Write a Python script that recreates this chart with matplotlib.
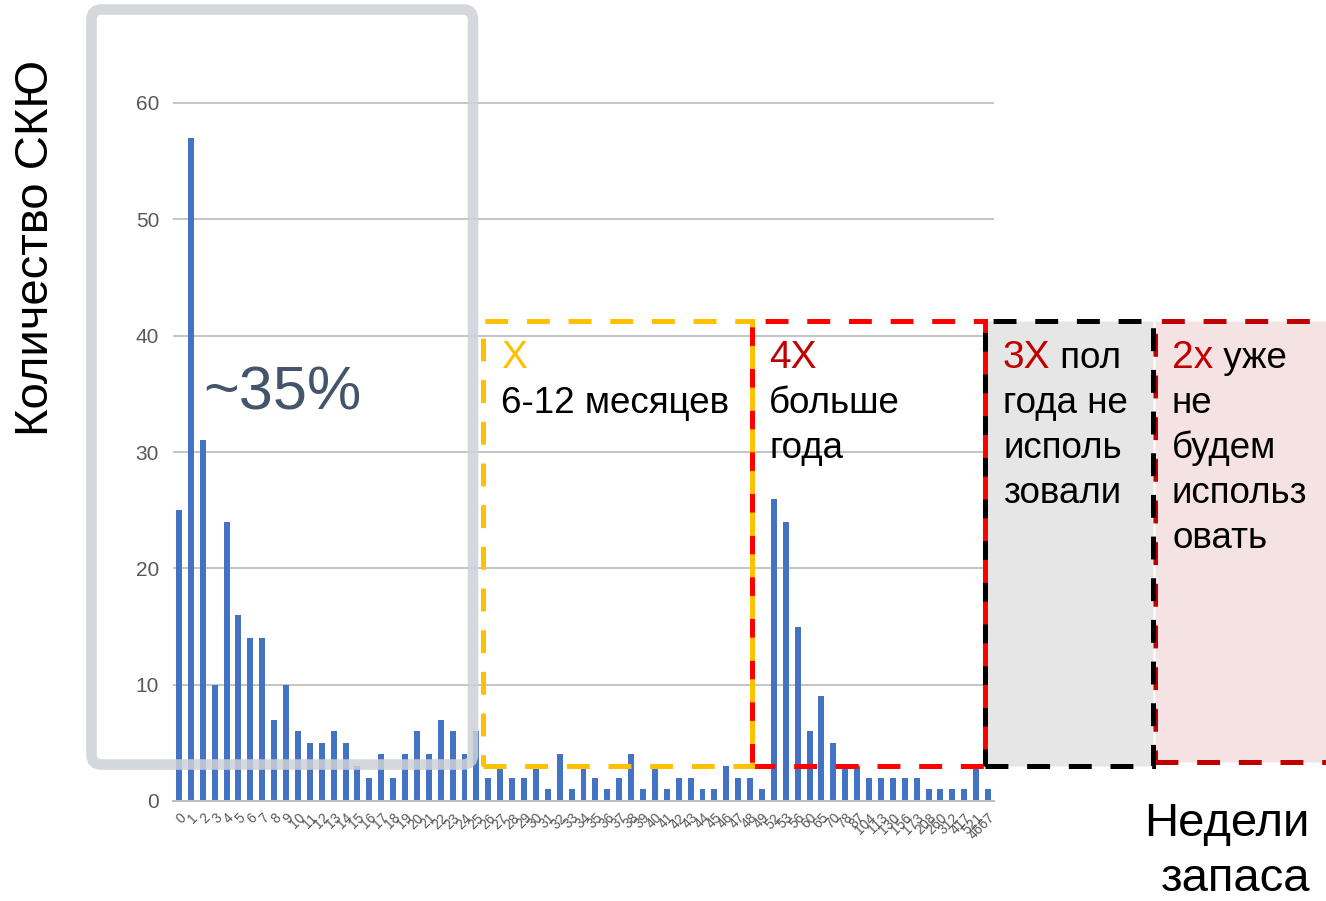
import numpy as np
import matplotlib.pyplot as plt
from matplotlib.patches import Rectangle, FancyBboxPatch
from matplotlib.transforms import IdentityTransform

plt.rcParams['font.family'] = ['Liberation Sans', 'DejaVu Sans']
plt.rcParams['lines.scale_dashes'] = False

# Недели запаса (подписи оси X) и количество СКЮ
weeks = [str(i) for i in range(50)] + ['52', '53', '56', '60', '65', '70', '78', '87', '104',
                                       '113', '130', '156', '173', '208', '260', '312', '417',
                                       '521', '4667']
counts = [25, 57, 31, 10, 24, 16, 14, 14, 7, 10, 6, 5, 5, 6, 5, 3, 2, 4, 2, 4, 6, 4, 7, 6, 4, 6,
          2, 3, 2, 2, 3, 1, 4, 1, 3, 2, 1, 2, 4, 1, 3, 1, 2, 2, 1, 1, 3, 2, 2, 1,
          26, 24, 15, 6, 9, 5, 3, 3, 2, 2, 2, 2, 2, 1, 1, 1, 1, 3, 1]

W, H = 1326, 901
fig = plt.figure(figsize=(W / 100, H / 100), dpi=100)
y0, y60 = 801, 103
unit = (y0 - y60) / 60
ytop = 62
ax = fig.add_axes([173 / W, 1 - y0 / H, (994 - 173) / W, ytop * unit / H])

x = np.arange(len(counts))
ax.bar(x, counts, width=0.5, color='#4472C4', zorder=2)
ax.set_xlim(-0.5, len(counts) - 0.5)
ax.set_ylim(0, ytop)
ax.set_yticks(range(0, 61, 10))
ax.grid(axis='y', color='#BFBFBF', linewidth=1.3, zorder=0)
for s in ['top', 'right', 'left']:
    ax.spines[s].set_visible(False)
ax.spines['bottom'].set_color('#BFBFBF')
ax.spines['bottom'].set_linewidth(1.5)
ax.tick_params(axis='y', length=0, labelsize=15, labelcolor='#595959', pad=10)
ax.set_xticks(x)
ax.set_xticklabels(weeks, rotation=45, ha='right', rotation_mode='anchor')
ax.tick_params(axis='x', length=0, labelsize=10, labelcolor='#595959', pad=7)

ident = IdentityTransform()


def box(x0, y0_, x1, y1, **kw):
    fig.add_artist(Rectangle((x0, H - y1), x1 - x0, y1 - y0_, transform=ident, **kw))


# серая рамка ~35%
fig.add_artist(FancyBboxPatch((91.5, H - 764.5), 473 - 91.5, 764.5 - 9.5,
                              boxstyle='round,pad=0,rounding_size=10', transform=ident,
                              fill=False, edgecolor='#CDD1D6', alpha=0.85, linewidth=7.6, zorder=5))

dash = (0, (16.5, 13.5))
box(1155, 320.5, 1345, 762, facecolor='#F5E3E3', edgecolor='#C00000', linewidth=3.6,
    linestyle=dash, zorder=6)
box(985, 320.5, 1153, 765.5, facecolor='#E7E6E6', edgecolor='black', linewidth=3.6,
    linestyle=dash, zorder=6)
box(751.5, 320.5, 985, 765.5, fill=False, edgecolor='#FF0000', linewidth=3.6,
    linestyle=dash, zorder=7)
box(482.5, 320.5, 751.5, 765.5, fill=False, edgecolor='#FFC000', linewidth=3.6,
    linestyle=dash, zorder=8)

renderer = fig.canvas.get_renderer()


def block(xl, prefix, pcolor, rest, lines, base=368, pitch=45):
    t = fig.text(xl, H - base, prefix, color=pcolor, fontsize=28, va='baseline',
                 transform=ident, zorder=10)
    w = t.get_window_extent(renderer).width
    if rest:
        fig.text(xl + w, H - base, rest, color='black', fontsize=26.5, va='baseline',
                 transform=ident, zorder=10)
    for i, line in enumerate(lines):
        fig.text(xl, H - base - pitch * (i + 1), line, color='black', fontsize=26.5,
                 va='baseline', transform=ident, zorder=10)


block(501, 'X', '#FFC000', '', ['6-12 месяцев'])
block(769, '4X', '#C00000', '', ['больше', 'года'])
block(1003, '3X', '#C00000', ' пол', ['года не', 'исполь', 'зовали'])
block(1172, '2x', '#C00000', ' уже', ['не', 'будем', 'использ', 'овать'])

fig.text(203, H - 410, '~35%', color='#44546A', fontsize=44, va='baseline',
         transform=ident, zorder=10)
fig.text(36, H - 248, 'Количество СКЮ', rotation=90, fontsize=34, va='center',
         ha='center', transform=ident)
fig.text(1310, H - 836, 'Недели', fontsize=34, ha='right', va='baseline', transform=ident)
fig.text(1310, H - 891, 'запаса', fontsize=34, ha='right', va='baseline', transform=ident)

fig.savefig('out.png', dpi=100)
